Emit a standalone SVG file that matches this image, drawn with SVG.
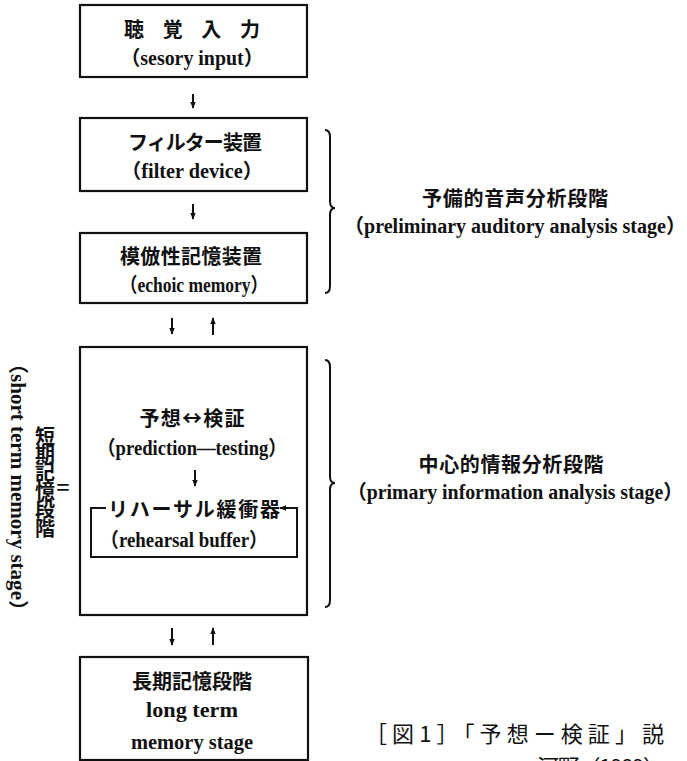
<svg xmlns="http://www.w3.org/2000/svg" width="687" height="761" viewBox="0 0 687 761">
<style>
.box{fill:#fff;stroke:#111;stroke-width:2.2}
.ln{fill:none;stroke:#111;stroke-width:2}
.jp{font-family:"Noto Sans CJK JP","Noto Sans CJK SC",sans-serif;font-weight:bold;font-size:20px;fill:#111}
.en{font-family:"Liberation Serif","Noto Sans CJK JP",serif;font-weight:bold;font-size:20px;fill:#111}
.cap{font-family:"Noto Sans CJK JP",sans-serif;font-size:22px;fill:#111}
.c{text-anchor:middle;dominant-baseline:central}
</style>
<defs>
<marker id="ah" viewBox="0 0 10 10" refX="9" refY="5" markerWidth="7" markerHeight="7" markerUnits="userSpaceOnUse" orient="auto">
<path d="M0,1 L10,5 L0,9 Z" fill="#111"/>
</marker>
</defs>
<rect width="687" height="761" fill="#fff"/>

<g id="sensory-input">
<rect class="box" x="80" y="5" width="227" height="72"/>
<text class="jp c" x="192" y="28" textLength="136" lengthAdjust="spacing">聴 覚 入 力</text>
<text class="en c" x="192" y="58" textLength="143" lengthAdjust="spacingAndGlyphs">（sesory input）</text>
</g>

<g id="filter-device">
<rect class="box" x="80" y="118" width="227" height="73"/>
<text class="jp c" x="195" y="141" textLength="134" lengthAdjust="spacing">フィルター装置</text>
<text class="en c" x="192" y="171" textLength="142" lengthAdjust="spacingAndGlyphs">（filter device）</text>
</g>

<g id="echoic-memory">
<rect class="box" x="80" y="233" width="227" height="70"/>
<text class="jp c" x="191" y="255" textLength="142" lengthAdjust="spacing">模倣性記憶装置</text>
<text class="en c" x="194" y="285" textLength="148" lengthAdjust="spacingAndGlyphs">（echoic memory）</text>
</g>

<g id="short-term-memory">
<rect class="box" x="80" y="347" width="227" height="268"/>
<text class="jp c" x="192" y="417" textLength="105" lengthAdjust="spacing">予想↔検証</text>
<text class="en c" x="192" y="448" textLength="190" lengthAdjust="spacingAndGlyphs">（prediction—testing）</text>
<text class="jp c" x="194" y="508" textLength="172" lengthAdjust="spacing">リハーサル緩衝器</text>
<text class="en c" x="184" y="540" textLength="168" lengthAdjust="spacingAndGlyphs">（rehearsal buffer）</text>
</g>

<g id="long-term-memory">
<rect class="box" x="80" y="657" width="228" height="103"/>
<text class="jp c" x="192" y="680" textLength="120" lengthAdjust="spacing">長期記憶段階</text>
<text class="en c" x="192" y="710" textLength="92" lengthAdjust="spacingAndGlyphs">long term</text>
<text class="en c" x="192" y="742" textLength="122" lengthAdjust="spacingAndGlyphs">memory stage</text>
</g>

<g id="stage-labels">
<text class="jp c" x="515" y="197" textLength="186" lengthAdjust="spacing">予備的音声分析段階</text>
<text class="en c" x="515" y="226" textLength="342" lengthAdjust="spacingAndGlyphs">（preliminary auditory analysis stage）</text>
<text class="jp c" x="511" y="463" textLength="185" lengthAdjust="spacing">中心的情報分析段階</text>
<text class="en c" x="515" y="492" textLength="336" lengthAdjust="spacingAndGlyphs">（primary information analysis stage）</text>
</g>

<g id="side-label">
<text class="jp" x="45" y="482" text-anchor="middle" writing-mode="vertical-rl" style="text-orientation:upright" textLength="112" lengthAdjust="spacing">短期記憶段階</text>
<text x="63" y="487" text-anchor="middle" dominant-baseline="central" textLength="14" lengthAdjust="spacingAndGlyphs" style="font-family:'Liberation Serif',serif;font-weight:bold;font-size:26px;fill:#111">=</text>
<text class="en c" transform="translate(18,487) rotate(90)" x="0" y="0" textLength="268" lengthAdjust="spacingAndGlyphs">（short term memory stage）</text>
</g>

<g id="braces">
<path class="ln" d="M325,130 Q330,130 330,137 L330,201 Q330,208 335,208 Q330,208 330,215 L330,286 Q330,293 325,293"/>
<path class="ln" d="M325,360 Q330,360 330,367 L330,476 Q330,483 335,483 Q330,483 330,490 L330,600 Q330,607 325,607"/>
</g>

<g id="connectors">
<line class="ln" x1="193" y1="94" x2="193" y2="108" marker-end="url(#ah)"/>
<line class="ln" x1="193" y1="204" x2="193" y2="219" marker-end="url(#ah)"/>
<line class="ln" x1="172" y1="318" x2="172" y2="334" marker-end="url(#ah)"/>
<line class="ln" x1="213" y1="335" x2="213" y2="318" marker-end="url(#ah)"/>
<line class="ln" x1="195" y1="470" x2="195" y2="486" marker-end="url(#ah)"/>
<line class="ln" x1="172" y1="628" x2="172" y2="645" marker-end="url(#ah)"/>
<line class="ln" x1="213" y1="645" x2="213" y2="628" marker-end="url(#ah)"/>
<path class="ln" d="M106,508 L91,508 L91,557 L297,557 L297,508 L280,508" marker-end="url(#ah)"/>
</g>

<g id="caption">
<text class="cap" x="365" y="742" textLength="299" lengthAdjust="spacing">［図1］「予想ー検証」説</text>
<text class="cap" x="537" y="775" textLength="128" lengthAdjust="spacing">河野（1989）</text>
</g>
</svg>
